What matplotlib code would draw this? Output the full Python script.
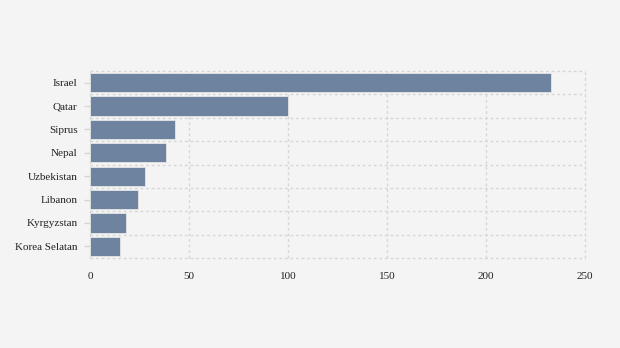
import matplotlib
matplotlib.use("Agg")
import matplotlib.pyplot as plt
import numpy as np

negara = ["Israel", "Qatar", "Siprus", "Nepal", "Uzbekistan", "Libanon",
          "Kyrgyzstan", "Korea Selatan"]
nilai = [233, 100, 43, 38.5, 28, 24, 18.3, 15.3]
x_ticks = [0, 50, 100, 150, 200, 250]

plt.rcParams["font.family"] = ["Liberation Serif", "DejaVu Serif"]

bg = "#f4f4f4"
fig = plt.figure(figsize=(6.2, 3.48), dpi=100, facecolor=bg)
ax = fig.add_axes([90 / 620, 1 - 258 / 348, 495 / 620, 187 / 348])
ax.set_facecolor(bg)

y = np.arange(len(negara))
ax.barh(y, nilai, height=0.82, color="#6e839f", edgecolor="#e6e6e6",
        linewidth=0.6, zorder=2)

ax.set_xlim(0, 250)
ax.set_ylim(len(negara) - 0.5, -0.5)
ax.set_xticks(x_ticks)
ax.set_xticklabels([str(t) for t in x_ticks])
ax.set_yticks(y)
ax.set_yticklabels(negara)
ax.set_yticks(np.arange(len(negara) + 1) - 0.5, minor=True)

for s in ax.spines.values():
    s.set_visible(False)

grid_kw = dict(color="#d6d6d6", linestyle=(0, (2, 2)), linewidth=1.0, zorder=1)
ax.grid(axis="x", which="major", **grid_kw)
ax.grid(axis="y", which="minor", **grid_kw)
ax.grid(axis="y", which="major", visible=False)
# keep the edge grid lines whole
for ln in ax.get_xgridlines():
    ln.set_clip_on(False)
for t in ax.yaxis.get_minor_ticks():
    t.gridline.set_clip_on(False)

ax.tick_params(axis="x", length=0, pad=10, labelsize=8, labelcolor="#222222")
ax.tick_params(axis="y", which="major", length=4, width=1, color="#d6d6d6",
               pad=5, labelsize=8, labelcolor="#222222")
ax.tick_params(axis="y", which="minor", length=0)
ax.set_axisbelow(True)

fig.savefig("out.png", dpi=100, facecolor=bg)
